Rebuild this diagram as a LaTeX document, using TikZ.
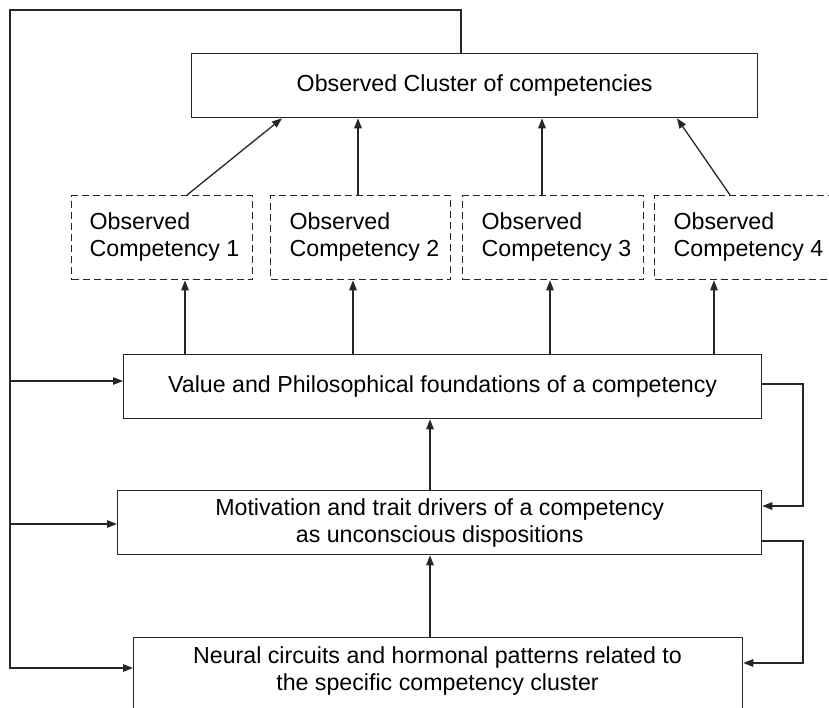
\documentclass[tikz,border=0pt]{standalone}
\usepackage{fontspec}
\setmainfont{Liberation Sans}
\usetikzlibrary{arrows.meta}
\begin{document}
\begin{tikzpicture}[x=1pt,y=-1pt,
  line width=1.3pt,
  box/.style={draw=black!85, line width=1.3pt, anchor=north west, inner sep=0pt, align=center,
    font=\fontsize{23.2}{27}\selectfont},
  dbox/.style={draw=black!85, line width=1.3pt, anchor=north west, inner sep=0pt,
    dash pattern=on 7pt off 4pt, minimum height=84pt},
  lbl/.style={anchor=west, inner sep=0pt, align=left, font=\fontsize{23.2}{27}\selectfont},
  ln/.style={draw=black!85, line width=1.3pt},
  arr/.style={ln, -{Triangle[length=10pt,width=7.5pt]}}]
\useasboundingbox (0,0) rectangle (829,707);
\clip (0,0) rectangle (829,707);
\fill[white] (0,0) rectangle (829,707);

\node[box, minimum width=566pt, minimum height=64pt] (cluster) at (191,53) {Observed Cluster of competencies};

\node[dbox, minimum width=181pt] (c1) at (71,195) {};
\node[dbox, minimum width=180pt] (c2) at (270,195) {};
\node[dbox, minimum width=181pt] (c3) at (462,195) {};
\node[dbox, minimum width=180pt] (c4) at (654,195) {};
\node[lbl] (t1) at (89,237) {Observed\\Competency 1};
\node[lbl] (t2) at (289,237) {Observed\\Competency 2};
\node[lbl] (t3) at (481,237) {Observed\\Competency 3};
\node[lbl] (t4) at (673,237) {Observed\\Competency 4};

\node[box, minimum width=638pt, minimum height=64pt] (value) at (123,354) {Value and Philosophical foundations of a competency};
\node[box, minimum width=644pt, minimum height=64pt] (motiv) at (117,490) {Motivation and trait drivers of a competency\\as unconscious dispositions};
\node[box, minimum width=609pt, minimum height=96pt] (neural) at (133,637) {};
\node[anchor=center, inner sep=0pt, align=center, font=\fontsize{23.2}{27}\selectfont] (nt) at (437.5,671) {Neural circuits and hormonal patterns related to\\the specific competency cluster};

% observed competencies to cluster
\draw[arr] (c1.north -| 187,0) -- (cluster.south -| 282,0);
\draw[arr] (c2.north -| 358,0) -- (cluster.south -| 358,0);
\draw[arr] (c3.north -| 542,0) -- (cluster.south -| 542,0);
\draw[arr] (c4.north -| 730,0) -- (cluster.south -| 677,0);

% value to observed competencies
\draw[arr] (value.north -| 185,0) -- (c1.south -| 185,0);
\draw[arr] (value.north -| 353,0) -- (c2.south -| 353,0);
\draw[arr] (value.north -| 550,0) -- (c3.south -| 550,0);
\draw[arr] (value.north -| 714,0) -- (c4.south -| 714,0);

% middle chain
\draw[arr] (motiv.north -| 430,0) -- (value.south -| 430,0);
\draw[arr] (neural.north -| 430,0) -- (motiv.south -| 430,0);

% left feedback
\coordinate (tl) at (10,10);
\draw[arr] (cluster.north -| 461,0) |- (tl) |- (neural.west |- 0,668);
\draw[arr] (10,381) -- (value.west |- 0,381);
\draw[arr] (10,524) -- (motiv.west |- 0,524);

% right feedback
\draw[arr] (value.east |- 0,384) -- (803,384) -- (803,506) -- (motiv.east |- 0,506);
\draw[arr] (motiv.east |- 0,541) -- (803,541) -- (803,663) -- (neural.east |- 0,663);
\end{tikzpicture}
\end{document}
